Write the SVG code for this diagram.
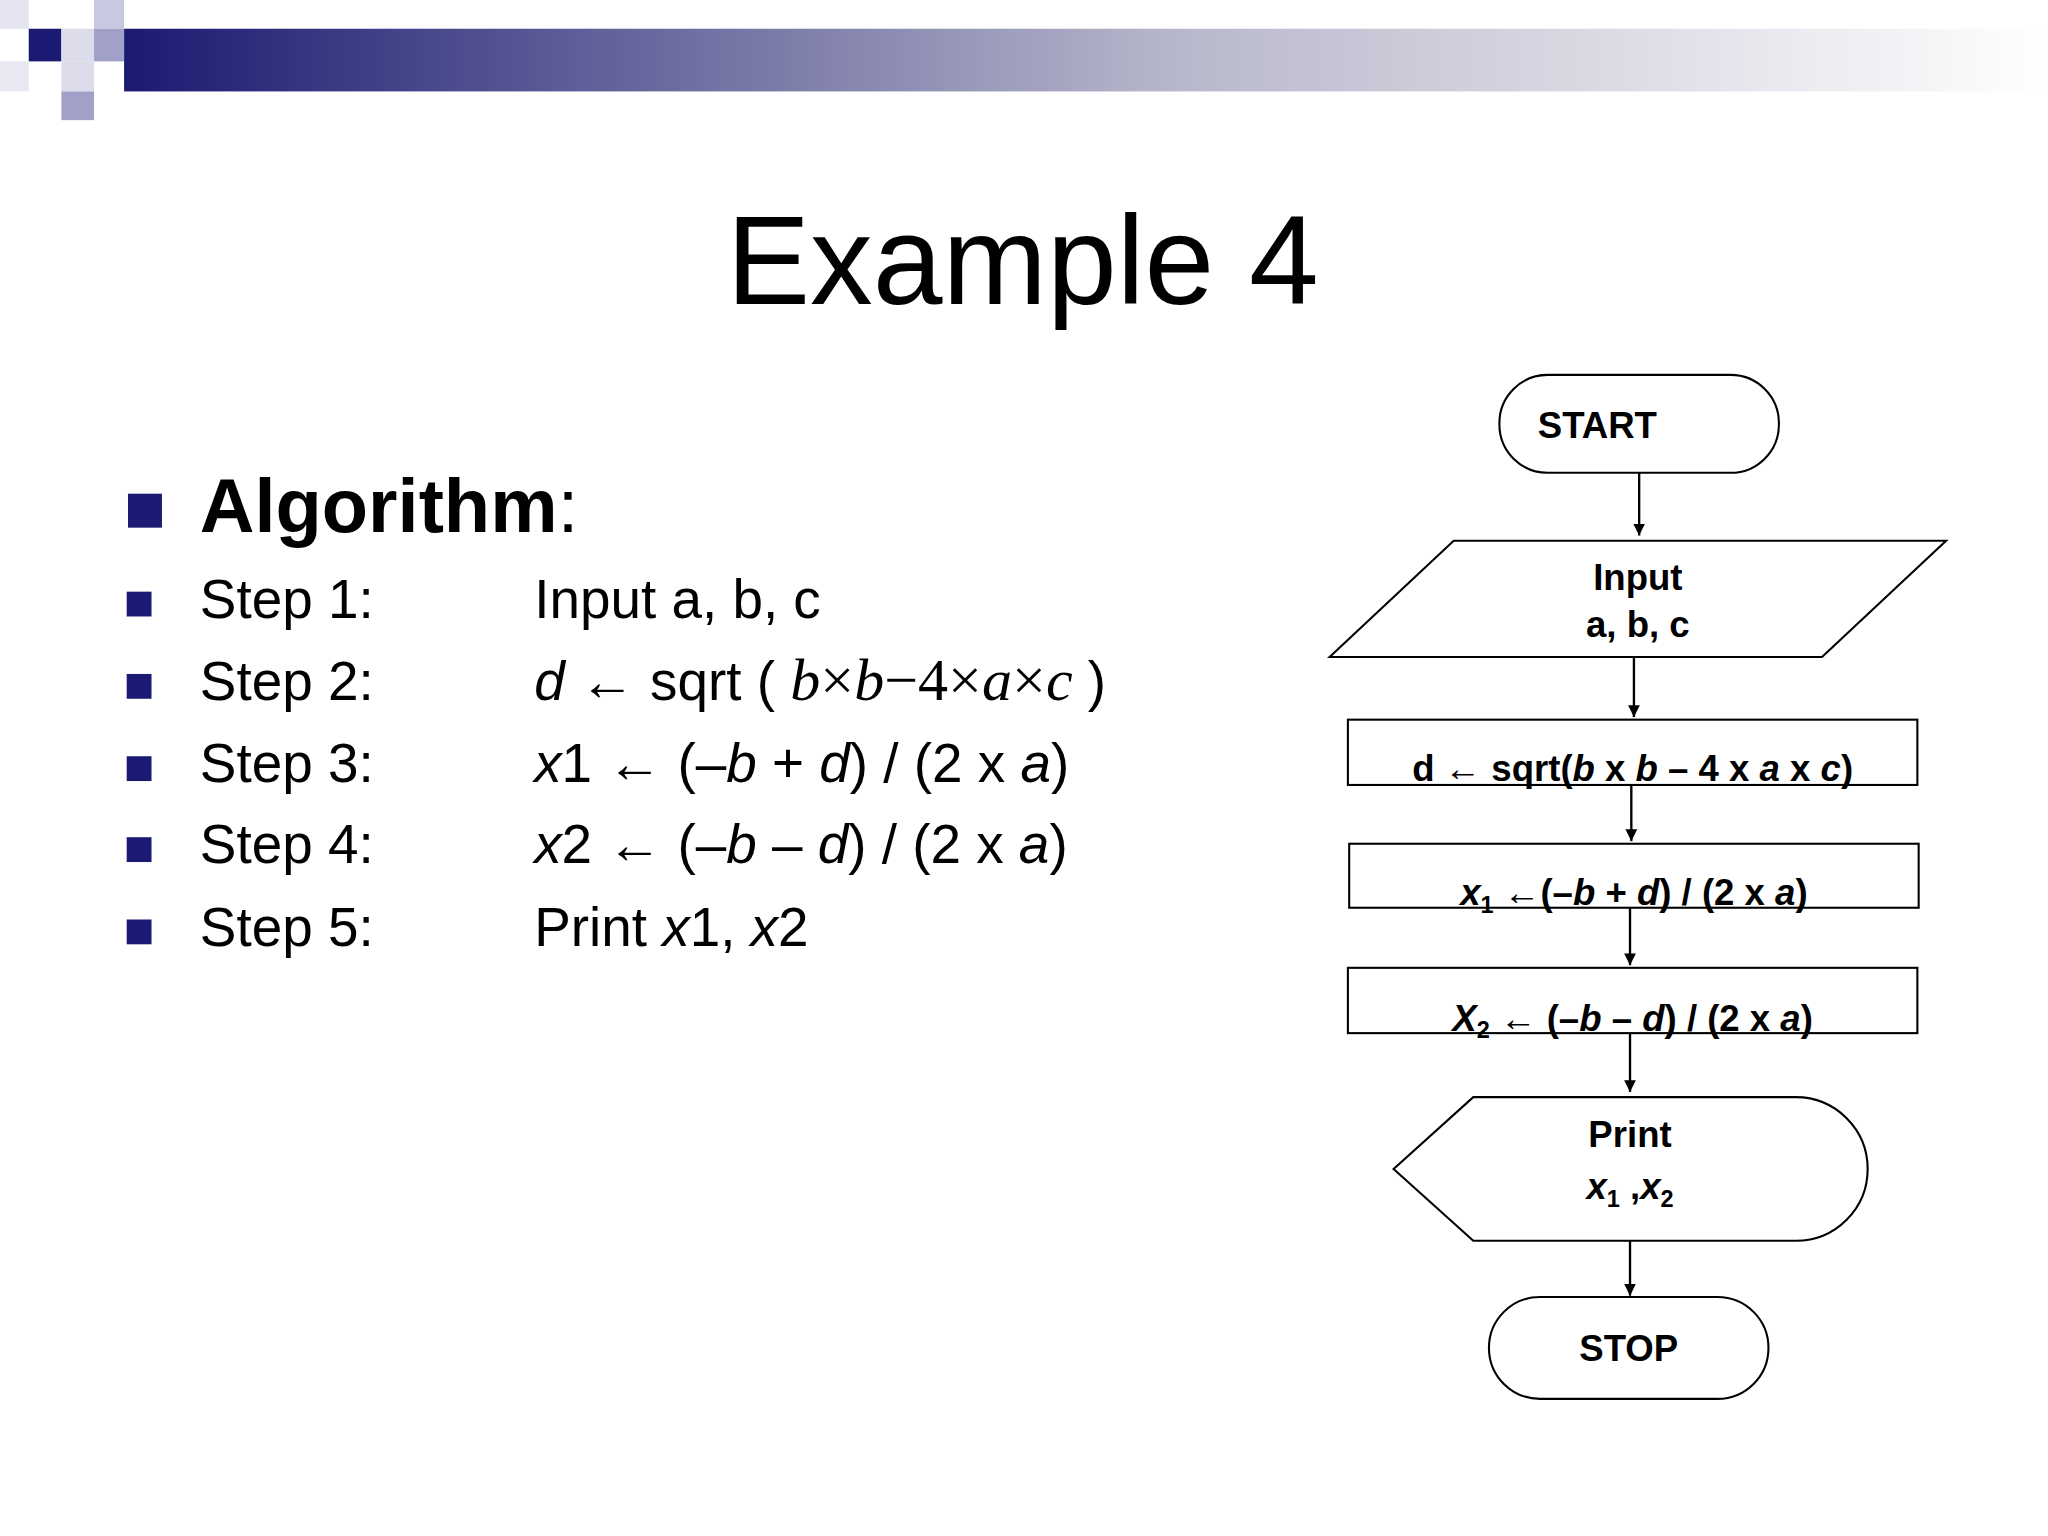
<svg xmlns="http://www.w3.org/2000/svg" width="2048" height="1536" viewBox="0 0 2048 1536">
<defs>
<linearGradient id="bar" x1="0" x2="1" y1="0" y2="0">
<stop offset="0" stop-color="#1a1a72"/><stop offset="0.55" stop-color="#b8b8cc"/><stop offset="1" stop-color="#ffffff"/>
</linearGradient>
<marker id="ah" viewBox="0 0 10 10" refX="10" refY="5" markerWidth="9" markerHeight="9" markerUnits="userSpaceOnUse" orient="auto"><path d="M0,0L10,5L0,10z" fill="#000"/></marker>
<style>
.s{fill:#fff;stroke:#000;stroke-width:1.6}
.c{stroke:#000;stroke-width:1.8;fill:none;marker-end:url(#ah)}
.fb{font-family:"Liberation Sans",Arial,sans-serif;font-weight:bold;font-size:28px;text-anchor:middle}
.t{font-family:"Liberation Sans",Arial,sans-serif;font-size:42px;fill:#000}
.b{fill:#1a1a72}
</style>
</defs>
<rect width="2048" height="1536" fill="#fff"/>
<g transform="scale(1.3061)">
<g id="header">
<rect x="95" y="22" width="1473" height="48" fill="url(#bar)"/>
<rect x="0" y="0" width="22" height="22" fill="#e4e4f0"/>
<rect x="22" y="22" width="25" height="25" fill="#1a1a72"/>
<rect x="47" y="22" width="25" height="25" fill="#dcdcea"/>
<rect x="72" y="0" width="23" height="22" fill="#c8c8e0"/>
<rect x="72" y="22" width="23" height="25" fill="#a0a0c8"/>
<rect x="47" y="47" width="25" height="23" fill="#dcdcea"/>
<rect x="47" y="70" width="25" height="22" fill="#a0a0c8"/>
<rect x="0" y="47" width="22" height="23" fill="#e8e8f2"/>
</g>
<text x="783" y="233" font-family="Liberation Sans,Arial,sans-serif" font-size="96" text-anchor="middle">Example 4</text>
<g id="algorithm">
<rect class="b" x="98" y="378" width="26" height="26"/>
<text x="153" y="407" font-family="Liberation Sans,Arial,sans-serif" font-size="58" font-weight="bold">Algorithm<tspan font-weight="normal">:</tspan></text>
<rect class="b" x="97" y="453" width="19" height="19"/>
<rect class="b" x="97" y="516" width="19" height="19"/>
<rect class="b" x="97" y="579" width="19" height="19"/>
<rect class="b" x="97" y="641" width="19" height="19"/>
<rect class="b" x="97" y="704" width="19" height="19"/>
<text class="t" x="153" y="473">Step 1:</text>
<text class="t" x="153" y="536">Step 2:</text>
<text class="t" x="153" y="599">Step 3:</text>
<text class="t" x="153" y="661">Step 4:</text>
<text class="t" x="153" y="724">Step 5:</text>
<text class="t" x="409" y="473">Input a, b, c</text>
<text class="t" x="409" y="536"><tspan font-style="italic">d</tspan> ← sqrt ( <tspan font-family="Liberation Serif,serif" font-style="italic" font-size="46">b</tspan><tspan font-family="Liberation Serif,serif" font-size="46">×</tspan><tspan font-family="Liberation Serif,serif" font-style="italic" font-size="46">b</tspan><tspan font-family="Liberation Serif,serif" font-size="46">−4×</tspan><tspan font-family="Liberation Serif,serif" font-style="italic" font-size="46">a</tspan><tspan font-family="Liberation Serif,serif" font-size="46">×</tspan><tspan font-family="Liberation Serif,serif" font-style="italic" font-size="46">c</tspan> )</text>
<text class="t" x="409" y="599"><tspan font-style="italic">x</tspan>1 ← (–<tspan font-style="italic">b</tspan> + <tspan font-style="italic">d</tspan>) / (2 x <tspan font-style="italic">a</tspan>)</text>
<text class="t" x="409" y="661"><tspan font-style="italic">x</tspan>2 ← (–<tspan font-style="italic">b</tspan> – <tspan font-style="italic">d</tspan>) / (2 x <tspan font-style="italic">a</tspan>)</text>
<text class="t" x="409" y="724">Print <tspan font-style="italic">x</tspan>1, <tspan font-style="italic">x</tspan>2</text>
</g>
<g id="connectors">
<line class="c" x1="1255" y1="362" x2="1255" y2="410"/>
<line class="c" x1="1251" y1="503" x2="1251" y2="549"/>
<line class="c" x1="1249" y1="601" x2="1249" y2="644"/>
<line class="c" x1="1248" y1="695" x2="1248" y2="739"/>
<line class="c" x1="1248" y1="791" x2="1248" y2="836"/>
<line class="c" x1="1248" y1="950" x2="1248" y2="992"/>
</g>
<g id="start"><rect class="s" x="1148" y="287" width="214" height="75" rx="37"/><text class="fb" x="1223" y="335">START</text></g>
<g id="input"><polygon class="s" points="1018,503 1113,414 1490,414 1395,503"/><text class="fb" x="1254" y="452">Input</text><text class="fb" x="1254" y="488">a, b, c</text></g>
<g id="calc_d"><rect class="s" x="1032" y="551" width="436" height="50"/><text class="fb" x="1250" y="598">d ← sqrt(<tspan font-style="italic">b</tspan> x <tspan font-style="italic">b</tspan> – 4 x <tspan font-style="italic">a</tspan> x <tspan font-style="italic">c</tspan>)</text></g>
<g id="calc_x1"><rect class="s" x="1033" y="646" width="436" height="49"/><text class="fb" x="1251" y="693"><tspan font-style="italic">x</tspan><tspan font-size="18" dy="6">1</tspan><tspan dy="-6"> ←(–</tspan><tspan font-style="italic">b</tspan> + <tspan font-style="italic">d</tspan>) / (2 x <tspan font-style="italic">a</tspan>)</text></g>
<g id="calc_x2"><rect class="s" x="1032" y="741" width="436" height="50"/><text class="fb" x="1250" y="789"><tspan font-style="italic">X</tspan><tspan font-size="18" dy="6">2</tspan><tspan dy="-6"> ← (–</tspan><tspan font-style="italic">b</tspan> – <tspan font-style="italic">d</tspan>) / (2 x <tspan font-style="italic">a</tspan>)</text></g>
<g id="print"><path class="s" d="M1128,840 L1375,840 A55,55 0 0 1 1375,950 L1128,950 L1067,895 Z"/><text class="fb" x="1248" y="878">Print</text><text class="fb" x="1248" y="918"><tspan font-style="italic">x</tspan><tspan font-size="18" dy="6">1</tspan><tspan dy="-6"> ,</tspan><tspan font-style="italic">x</tspan><tspan font-size="18" dy="6">2</tspan></text></g>
<g id="stop"><rect class="s" x="1140" y="993" width="214" height="78" rx="39"/><text class="fb" x="1247" y="1042">STOP</text></g>
</g>
</svg>
